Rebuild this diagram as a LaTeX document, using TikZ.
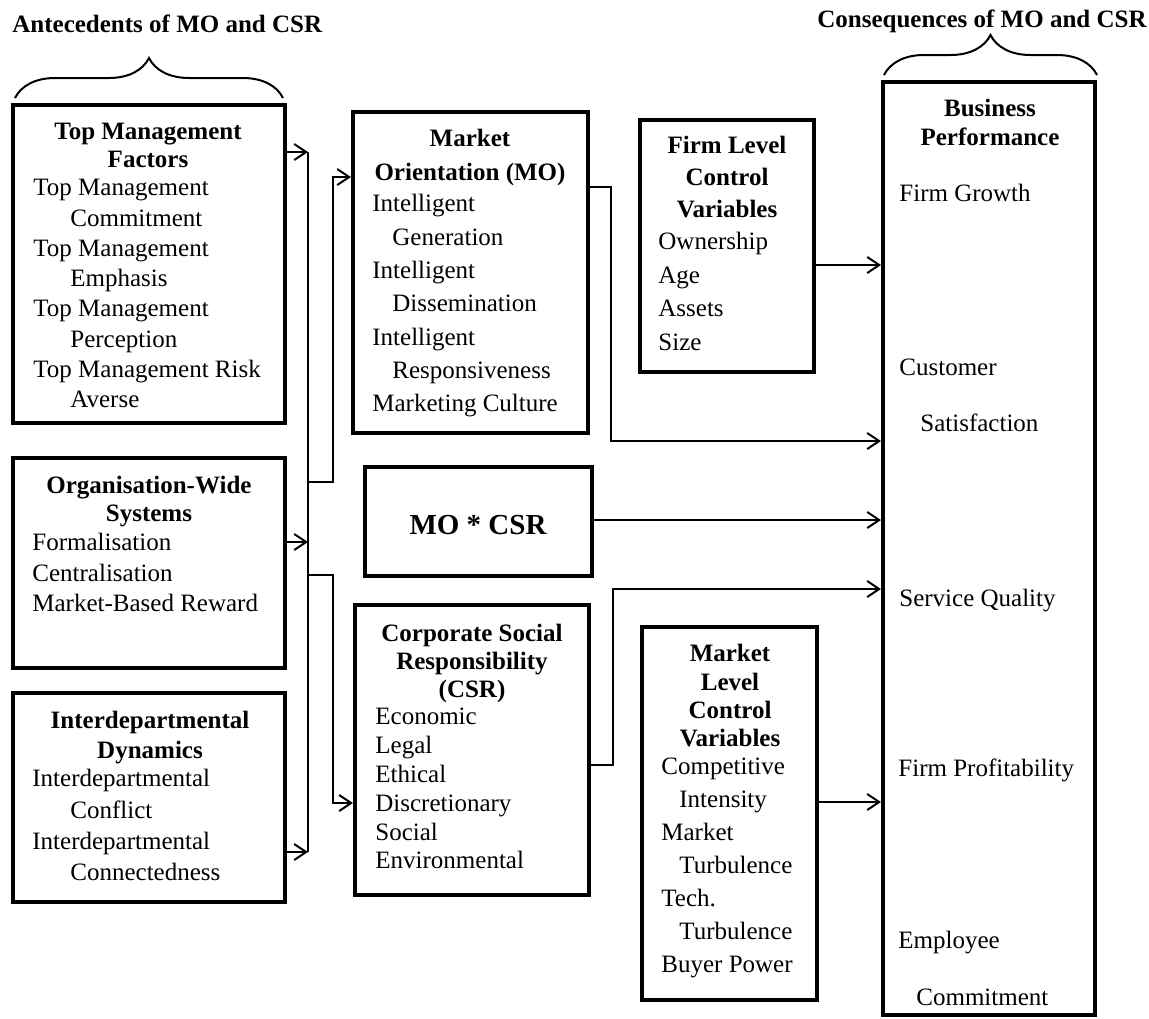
\documentclass[tikz,border=0pt]{standalone}
\usepackage{fontspec}
\setmainfont{Liberation Serif}
\usetikzlibrary{arrows.meta,fit,decorations.pathreplacing}

\newcommand{\boxfont}[1]{\fontsize{12.5pt}{#1pt}\selectfont}
\newcommand{\indentby}[1]{\hspace*{#1pt}}

\tikzset{
  box/.style={draw, line width=2pt, inner sep=0pt},
  head/.style={align=center, inner sep=0pt, anchor=north},
  items/.style={align=left, inner sep=0pt, anchor=north west},
  word/.style={inner sep=0pt, anchor=base west, font=\boxfont{15}},
  link/.style={line width=1pt},
  arrow/.style={link, -{Straight Barb[length=6pt,width=8pt]}},
  curly/.style={decorate, decoration={brace, amplitude=20pt}, line width=1pt},
}

\begin{document}
\begin{tikzpicture}[x=0.5pt, y=-0.5pt]
\useasboundingbox (0,0) rectangle (1149,1018);

% Headings and braces
\node[word, font=\boxfont{15}\bfseries] (antetitle) at (12,32) {Antecedents of MO and CSR};
\node[word, font=\boxfont{15}\bfseries] (consetitle) at (817,27) {Consequences of MO and CSR};
\draw[curly] (15,98) -- (283,98);
\draw[curly] (884,75) -- (1097,75);

% Top management factors
\node[box, fit={(13,105) (285,423)}] (tmf) {};
\node[head, font=\boxfont{14}\bfseries] (tmfhead) at (148,123) {Top Management\\Factors};
\node[items, font=\boxfont{15.15}] (tmfitems) at (33,179) {Top Management\\\indentby{18.5}Commitment\\Top Management\\\indentby{18.5}Emphasis\\Top Management\\\indentby{18.5}Perception\\Top Management Risk\\\indentby{18.5}Averse};

% Organisation-wide systems
\node[box, fit={(13,458) (285,668)}] (ows) {};
\node[head, font=\boxfont{14}\bfseries] (owshead) at (149,476) {Organisation-Wide\\Systems};
\node[items, font=\boxfont{15.25}] (owsitems) at (32,533) {Formalisation\\Centralisation\\Market-Based Reward};

% Interdepartmental dynamics
\node[box, fit={(13,693) (285,902)}] (idd) {};
\node[head, font=\boxfont{15}\bfseries] (iddhead) at (150,711) {Interdepartmental\\Dynamics};
\node[items, font=\boxfont{15.65}] (idditems) at (32,769) {Interdepartmental\\\indentby{19}Conflict\\Interdepartmental\\\indentby{19}Connectedness};

% Market orientation
\node[box, fit={(353,112) (588,433)}] (mo) {};
\node[head, font=\boxfont{17}\bfseries] (mohead) at (470,129) {Market\\Orientation (MO)};
\node[items, font=\boxfont{16.67}] (moitems) at (372,194) {Intelligent\\\indentby{10}Generation\\Intelligent\\\indentby{10}Dissemination\\Intelligent\\\indentby{10}Responsiveness\\Marketing Culture};

% Interaction
\node[box, fit={(365,467) (592,576)}] (mocsr) {};
\node[inner sep=0pt, font=\fontsize{14.5pt}{17pt}\selectfont\bfseries] (mocsrtext) at (478,525) {MO * CSR};

% Corporate social responsibility
\node[box, fit={(355,605) (589,895)}] (csr) {};
\node[head, font=\boxfont{14}\bfseries] (csrhead) at (472,624) {Corporate Social\\Responsibility\\(CSR)};
\node[items, font=\boxfont{14.4}] (csritems) at (375,708) {Economic\\Legal\\Ethical\\Discretionary\\Social\\Environmental};

% Firm level control variables
\node[box, fit={(640,120) (814,372)}] (flc) {};
\node[head, font=\boxfont{16}\bfseries] (flchead) at (727,136) {Firm Level\\Control\\Variables};
\node[items, font=\boxfont{16.8}] (flcitems) at (658,232) {Ownership\\Age\\Assets\\Size};

% Market level control variables
\node[box, fit={(642,627) (817,1000)}] (mlc) {};
\node[head, font=\boxfont{14.17}\bfseries] (mlchead) at (730,644) {Market\\Level\\Control\\Variables};
\node[items, font=\boxfont{16.5}] (mlcitems) at (661,758) {Competitive\\\indentby{9}Intensity\\Market\\\indentby{9}Turbulence\\Tech.\\\indentby{9}Turbulence\\Buyer Power};

% Business performance
\node[box, fit={(883,82) (1095,1015)}] (bp) {};
\node[head, font=\boxfont{14.5}\bfseries] (bphead) at (990,99) {Business\\Performance};
\node[word] (growth) at (899,201) {Firm Growth};
\node[word] (customer) at (899,375) {Customer};
\node[word] (satisfaction) at (920,431) {Satisfaction};
\node[word] (service) at (899,606) {Service Quality};
\node[word] (profit) at (898,776) {Firm Profitability};
\node[word] (employee) at (898,948) {Employee};
\node[word] (commitment) at (916,1005) {Commitment};

% Connector points
\coordinate (trunktop) at (308,152);
\coordinate (trunkows) at (308,542);
\coordinate (trunkbot) at (308,852);
\coordinate (splitmo) at (308,482);
\coordinate (splitcsr) at (308,575);
\coordinate (intomo) at (333,177);
\coordinate (intocsr) at (333,803);
\coordinate (outmo) at (611,187);
\coordinate (outcsr) at (613,765);
\coordinate (bpfirm) at (883,265);
\coordinate (bpmo) at (883,441);
\coordinate (bpmocsr) at (883,520);
\coordinate (bpcsr) at (883,589);
\coordinate (bpmarket) at (883,802);

% Antecedents into MO and CSR
\draw[link] (trunktop) -- (trunkbot);
\draw[arrow] (tmf.east |- trunktop) -- (trunktop);
\draw[arrow] (ows.east |- trunkows) -- (trunkows);
\draw[arrow] (idd.east |- trunkbot) -- (trunkbot);
\draw[arrow] (splitmo) -| (intomo) -- (mo.west |- intomo);
\draw[arrow] (splitcsr) -| (intocsr) -- (csr.west |- intocsr);

% Into business performance
\draw[arrow] (mo.east |- outmo) -- (outmo) |- (bp.west |- bpmo);
\draw[arrow] (flc.east |- bpfirm) -- (bp.west |- bpfirm);
\draw[arrow] (mocsr.east |- bpmocsr) -- (bp.west |- bpmocsr);
\draw[arrow] (csr.east |- outcsr) -- (outcsr) |- (bp.west |- bpcsr);
\draw[arrow] (mlc.east |- bpmarket) -- (bp.west |- bpmarket);

\end{tikzpicture}
\end{document}
